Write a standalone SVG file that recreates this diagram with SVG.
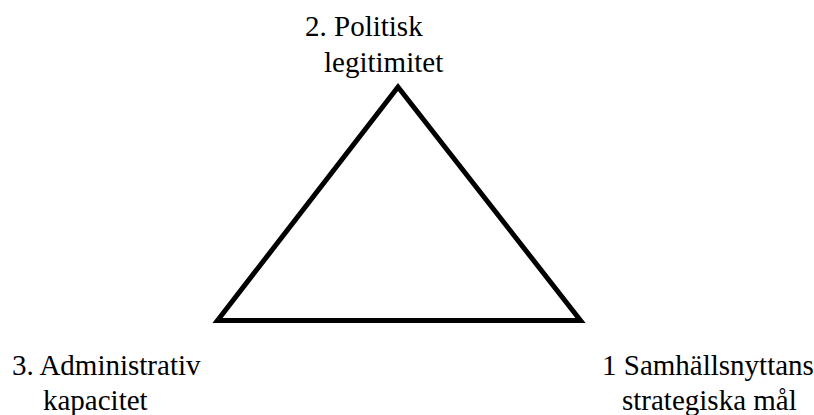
<svg xmlns="http://www.w3.org/2000/svg" width="814" height="415" viewBox="0 0 814 415">
<style>
.lbl { font-family: 'Liberation Serif', 'Times New Roman', serif; font-size: 29px; fill: #000; }
.tri { fill: none; stroke: #000; stroke-width: 5; stroke-linejoin: miter; stroke-miterlimit: 10; }
</style>
<rect width="814" height="415" fill="#fff"/>
<g id="connectors">
<polygon class="tri" points="398,87 217.5,320.5 580.5,320.5"/>
</g>
<g id="node-politisk">
<text class="lbl" x="305" y="36">2. Politisk</text>
<text class="lbl" x="324" y="72">legitimitet</text>
</g>
<g id="node-administrativ">
<text class="lbl" x="12" y="375">3. Administrativ</text>
<text class="lbl" x="43" y="410">kapacitet</text>
</g>
<g id="node-samhallsnytta">
<text class="lbl" x="602" y="375">1 Samhällsnyttans</text>
<text class="lbl" x="622" y="410">strategiska mål</text>
</g>
</svg>
